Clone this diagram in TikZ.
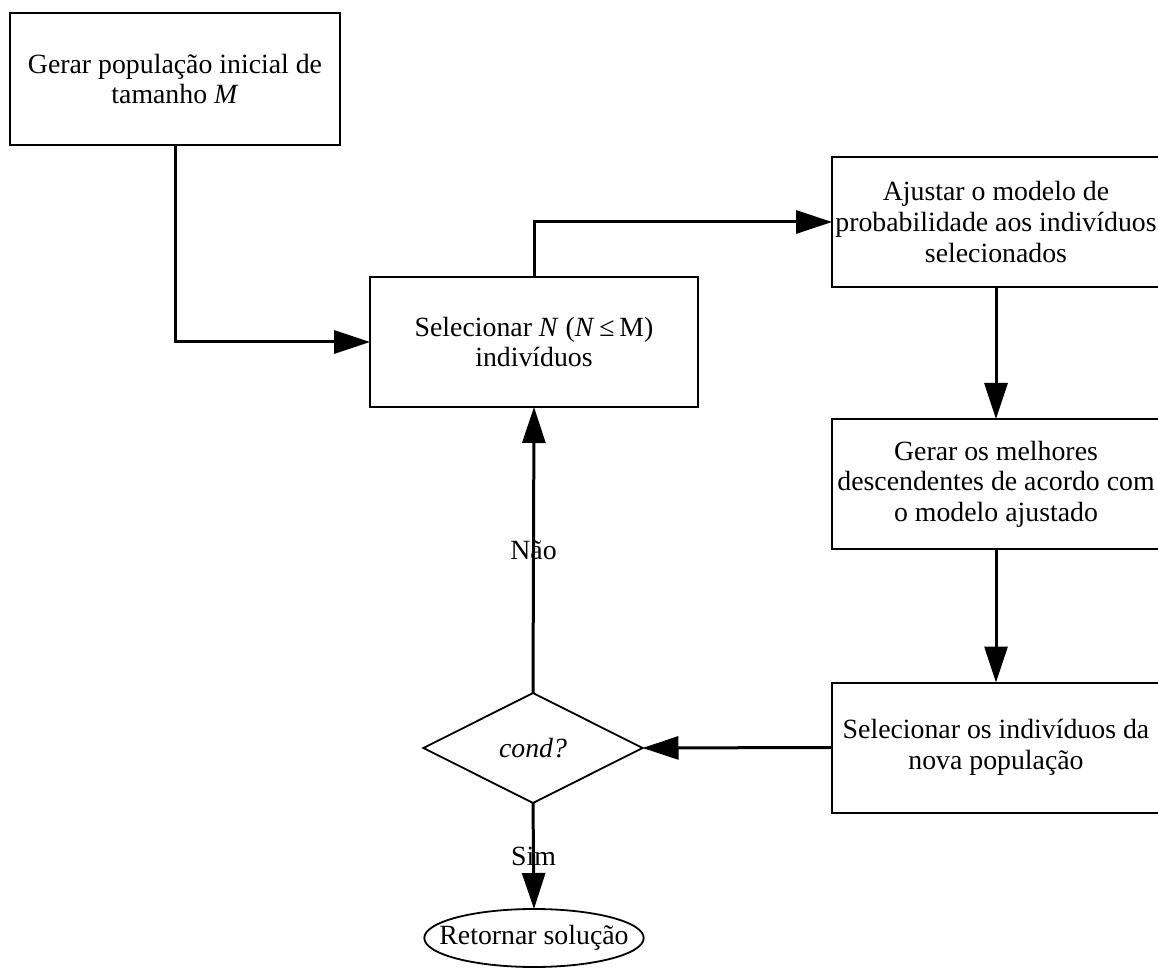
\documentclass[tikz,border=0pt]{standalone}
\usepackage{fontspec}
\setmainfont{Liberation Serif}
\usetikzlibrary{arrows.meta,shapes.geometric}
\newcommand{\flowfont}{\fontsize{13.9}{15.3}\selectfont}
\begin{document}
\begin{tikzpicture}[x=0.5pt,y=-0.5pt,
  stepbox/.style={draw, line width=1pt, inner sep=0pt, outer sep=0pt,
    minimum width=164pt, minimum height=65pt, align=center, font=\flowfont},
  decision/.style={draw, diamond, line width=0.9pt, inner sep=0pt, outer sep=0pt,
    minimum width=109.5pt, minimum height=55pt, font=\flowfont\itshape},
  terminal/.style={draw, ellipse, line width=0.9pt, inner xsep=-8.5pt, inner ysep=0pt,
    outer sep=0pt, minimum width=107.5pt, minimum height=29pt, font=\flowfont},
  conn/.style={line width=1.5pt, -{Triangle[length=18pt,width=11.5pt]}},
  edgelabel/.style={inner sep=0pt, font=\flowfont}
]
\fill[white] (0,0) rectangle (1158,968);
\useasboundingbox (0,0) rectangle (1158,968);
\clip (0,0) rectangle (1158,968);

% process steps
\node[stepbox, minimum width=165pt, minimum height=66pt] (init) at (175,79)
  {Gerar população inicial de\\tamanho \textit{M}};
\node[stepbox] (sel) at (534,342)
  {Selecionar \textit{N} (\textit{N}\,≤\,M)\\indivíduos};
\node[stepbox] (fit) at (996,222)
  {Ajustar o modelo de\\probabilidade aos indivíduos\\selecionados};
\node[stepbox] (gen) at (996,484)
  {Gerar os melhores\\descendentes de acordo com\\o modelo ajustado};
\node[stepbox] (pick) at (996,747.5)
  {Selecionar os indivíduos da\\nova população};

% stopping test and result
\node[decision] (cond) at (533,748) {cond?};
\node[terminal] (ret) at (534,938) {Retornar solução};

% connectors
\draw[conn] (init.south) |- (sel.west);
\draw[conn] (sel.north) |- (fit.west);
\draw[conn] (fit.south) -- (gen.north);
\draw[conn] (gen.south) -- (pick.north);
\draw[conn] (pick.west) -- (cond.east);
\draw[conn] (cond.north) -- node[edgelabel] (nao) {Não} (sel.south);
\draw[conn] (cond.south) -- node[edgelabel] (sim) {Sim} (ret.north);
\end{tikzpicture}
\end{document}
